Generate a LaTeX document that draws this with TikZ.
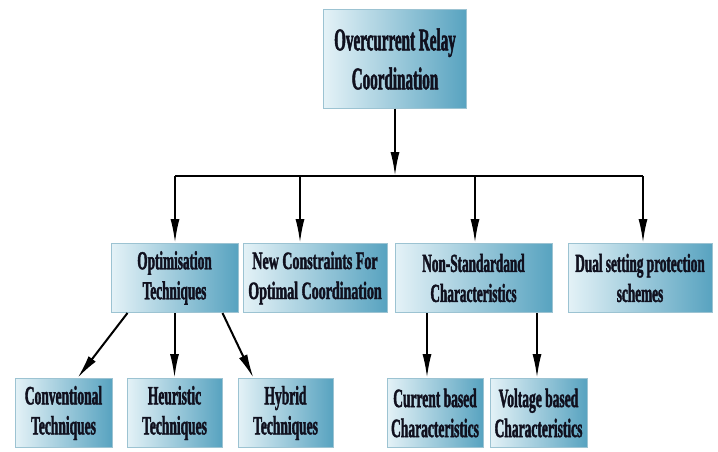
\documentclass[tikz,border=0pt]{standalone}
\usepackage{fontspec}
\setmainfont{Liberation Serif}[FakeStretch=0.51, BoldFeatures={FakeBold=1.5}]
\newfontfamily\topfont{Liberation Serif}[FakeStretch=0.48, BoldFeatures={FakeBold=1.5}]
\newfontfamily\widefont{Liberation Serif}[FakeStretch=0.56, BoldFeatures={FakeBold=1.5}]
\usetikzlibrary{arrows.meta}
\definecolor{boxlight}{HTML}{E4F2F7}
\definecolor{boxdark}{HTML}{58A3C0}
\definecolor{boxline}{HTML}{9CC3D2}
\definecolor{boxtext}{HTML}{10101E}

\begin{document}
\begin{tikzpicture}[x=1pt, y=-1pt,
    box/.style={rectangle, draw=boxline, line width=1pt, left color=boxlight, right color=boxdark, align=center, text=boxtext, inner sep=0pt, minimum height=69pt, font=\fontsize{26}{30}\selectfont\bfseries},
    leaf/.style={box, minimum height=69pt, font=\fontsize{26.5}{30}\selectfont\bfseries},
    arrow/.style={-{Latex[length=24pt, width=9pt]}, line width=2pt}
]
    \useasboundingbox (0,0) rectangle (718,452);

    \node[box, minimum width=143pt, minimum height=98pt, font=\topfont\fontsize{31.5}{39}\selectfont\bfseries] (relay) at (395,59) {Overcurrent Relay\\Coordination};

    \node[box, minimum width=127pt] (opt) at (174.5,278) {Optimisation\\Techniques};
    \node[box, minimum width=144pt, font=\widefont\fontsize{25}{30}\selectfont\bfseries] (cons) at (315,278) {New Constraints For\\Optimal Coordination};
    \node[box, minimum width=157pt] (nonstd) at (473.5,278) {Non-Standardand\\Characteristics};
    \node[box, minimum width=144pt] (dual) at (640,278) {Dual setting protection\\schemes};

    \node[leaf, minimum width=97pt] (conv) at (63.5,413) {Conventional\\Techniques};
    \node[leaf, minimum width=95pt] (heur) at (174.5,413) {Heuristic\\Techniques};
    \node[leaf, minimum width=95pt] (hyb) at (285.5,413) {Hybrid\\Techniques};
    \node[leaf, minimum width=96pt] (cur) at (435,413) {Current based\\Characteristics};
    \node[leaf, minimum width=97pt] (volt) at (538.5,413) {Voltage based\\Characteristics};

    \coordinate (busl) at (175,176);
    \coordinate (busr) at (643,176);
    \coordinate (b2) at (300,176);
    \coordinate (b3) at (475,176);

    \draw[line width=2.5pt] (busl) -- (busr);
    \draw[arrow] (relay) -- (relay |- busl);
    \draw[arrow] (busl) -- (busl |- opt.north);
    \draw[arrow] (b2) -- (b2 |- cons.north);
    \draw[arrow] (b3) -- (b3 |- nonstd.north);
    \draw[arrow] (busr) -- (busr |- dual.north);

    \draw[arrow] ([xshift=-47pt]opt.south) -- ([xshift=14pt]conv.north);
    \draw[arrow] (opt.south) -- (opt.south |- heur.north);
    \draw[arrow] ([xshift=48pt]opt.south) -- ([xshift=-32pt]hyb.north);
    \draw[arrow] ([xshift=-8pt]cur.north |- nonstd.south) -- ([xshift=-8pt]cur.north);
    \draw[arrow] ([xshift=-1.5pt]volt.north |- nonstd.south) -- ([xshift=-1.5pt]volt.north);
\end{tikzpicture}
\end{document}
